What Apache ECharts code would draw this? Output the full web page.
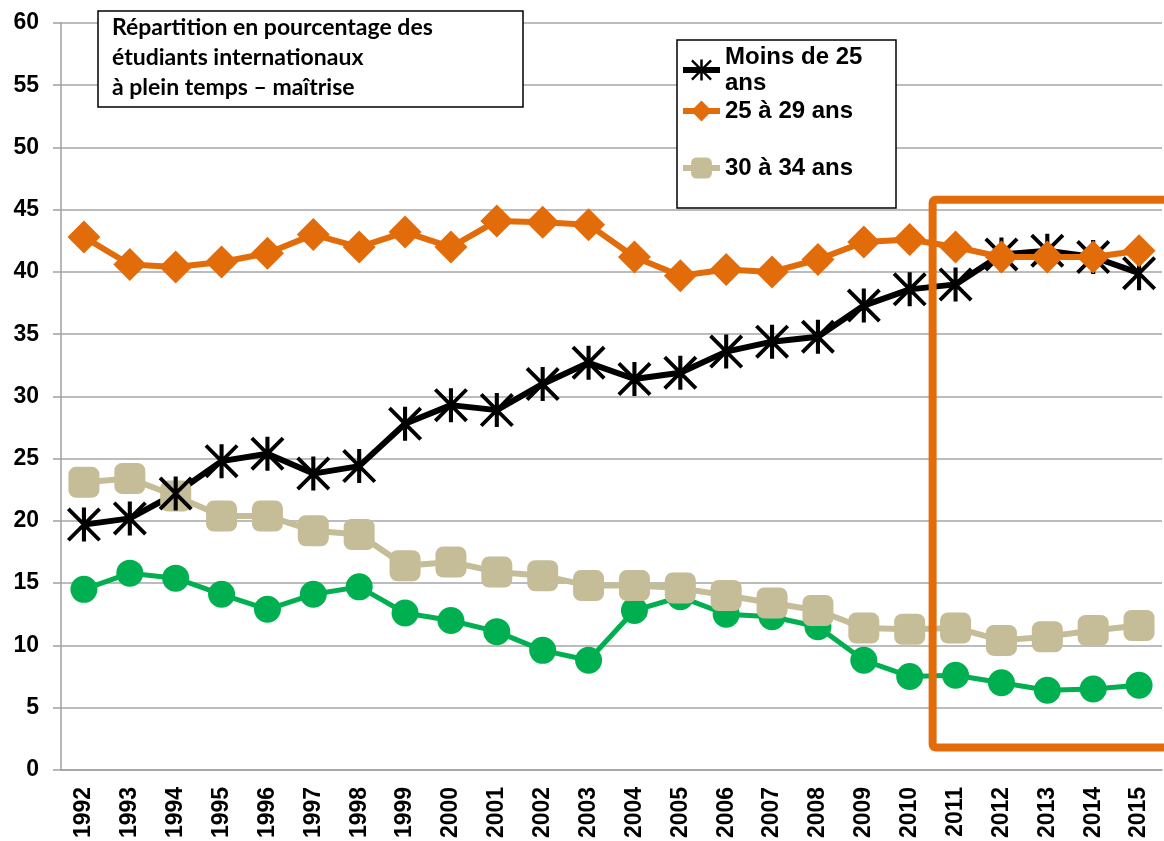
<!doctype html>
<html>
    <head>
        <meta charset="utf-8">
        <style>
            html, body { margin: 0; padding: 0; background: #fff; }
            #main { width: 1164px; height: 841px; }
        </style>
    </head>
    <body>
        <div id="main"></div>
        <script src="https://cdn.jsdelivr.net/npm/echarts@6/dist/echarts.min.js"></script>
        <script>
            var annees = ['1992', '1993', '1994', '1995', '1996', '1997', '1998', '1999', '2000', '2001', '2002', '2003',
                '2004', '2005', '2006', '2007', '2008', '2009', '2010', '2011', '2012', '2013', '2014', '2015'];

            var moins25 = [19.7, 20.2, 22.2, 24.8, 25.4, 23.8, 24.4, 27.8, 29.3, 28.9, 31.0, 32.7,
                31.4, 31.9, 33.6, 34.4, 34.8, 37.3, 38.6, 39.0, 41.4, 41.7, 41.2, 39.9];
            var de25a29 = [42.8, 40.6, 40.4, 40.8, 41.5, 43.0, 42.0, 43.2, 42.0, 44.1, 44.0, 43.8,
                41.2, 39.7, 40.2, 40.0, 41.0, 42.4, 42.6, 42.0, 41.2, 41.2, 41.2, 41.7];
            var de30a34 = [23.1, 23.4, 22.0, 20.4, 20.4, 19.2, 18.9, 16.4, 16.7, 15.9, 15.6, 14.8,
                14.8, 14.6, 14.0, 13.4, 12.8, 11.4, 11.3, 11.4, 10.4, 10.7, 11.2, 11.6];
            var plus35 = [14.5, 15.8, 15.4, 14.1, 12.9, 14.1, 14.7, 12.6, 12.0, 11.1, 9.6, 8.8,
                12.8, 13.9, 12.5, 12.3, 11.5, 8.8, 7.5, 7.6, 7.0, 6.4, 6.5, 6.8];

            var titre = 'Répartition en pourcentage des\nétudiants internationaux\nà plein temps – maîtrise';

            // asterisque (vertical + X) pour la série "Moins de 25 ans"
            var etoile = 'path://M44 0H56V100H44Z M8 0L100 92L92 100L0 8Z M92 0L100 8L8 100L0 92Z';

            var chart = echarts.init(document.getElementById('main'));

            chart.setOption({
                animation: false,
                title: {
                    text: titre,
                    left: 98,
                    top: 11,
                    padding: [2, 90, 4, 14],
                    backgroundColor: '#fff',
                    borderColor: '#000',
                    borderWidth: 1.5,
                    textStyle: {
                        fontFamily: 'Lato',
                        fontWeight: 'bold',
                        fontSize: 23,
                        lineHeight: 30,
                        color: '#000'
                    }
                },
                legend: {
                    orient: 'vertical',
                    left: 680,
                    top: 44,
                    padding: 0,
                    itemWidth: 37,
                    itemHeight: 26,
                    itemGap: 2,
                    lineStyle: {width: 6},
                    data: [
                        {name: 'Moins de 25 ans'},
                        {name: '25 à 29 ans'},
                        {name: '30 à 34 ans', textStyle: {padding: [29, 0, 29, 0]}}
                    ],
                    formatter: function (n) {
                        return n === 'Moins de 25 ans' ? 'Moins de 25\nans' : n;
                    },
                    textStyle: {
                        fontFamily: 'Liberation Sans',
                        fontWeight: 'bold',
                        fontSize: 24,
                        lineHeight: 26,
                        color: '#000'
                    }
                },
                grid: {
                    left: 61,
                    right: 2,
                    top: 23,
                    bottom: 71
                },
                xAxis: {
                    type: 'category',
                    data: annees,
                    boundaryGap: true,
                    axisLine: {lineStyle: {color: '#A0A0A0', width: 1.5}},
                    axisTick: {length: 8, lineStyle: {color: '#A0A0A0', width: 1.5}},
                    axisLabel: {
                        rotate: 90,
                        margin: 17,
                        fontFamily: 'Liberation Sans',
                        fontWeight: 'bold',
                        fontSize: 23,
                        color: '#000'
                    }
                },
                yAxis: {
                    type: 'value',
                    min: 0,
                    max: 60,
                    interval: 5,
                    axisLine: {show: true, lineStyle: {color: '#A0A0A0', width: 1.5}},
                    axisTick: {show: true, length: 8, lineStyle: {color: '#A0A0A0', width: 1.5}},
                    splitLine: {lineStyle: {color: '#A6A6A6', width: 1.5}},
                    axisLabel: {
                        margin: 22,
                        fontFamily: 'Liberation Sans',
                        fontWeight: 'bold',
                        fontSize: 23,
                        color: '#000'
                    }
                },
                graphic: [{
                    type: 'rect',
                    id: 'cadreLegende',
                    shape: {x: 677, y: 40, width: 219, height: 168},
                    style: {fill: '#fff', stroke: '#000', lineWidth: 1.5},
                    z: 3
                }],
                series: [{
                    name: '35 ans et plus',
                    type: 'line',
                    data: plus35,
                    symbol: 'circle',
                    symbolSize: 27,
                    lineStyle: {color: '#00B050', width: 5},
                    itemStyle: {color: '#00B050'}
                }, {
                    name: '30 à 34 ans',
                    type: 'line',
                    data: de30a34,
                    symbol: 'roundRect',
                    symbolSize: 31,
                    lineStyle: {color: '#C4BD97', width: 6},
                    itemStyle: {color: '#C4BD97'}
                }, {
                    name: 'Moins de 25 ans',
                    type: 'line',
                    data: moins25,
                    symbol: etoile,
                    symbolSize: 34,
                    lineStyle: {color: '#000', width: 6},
                    itemStyle: {color: '#000'}
                }, {
                    name: '25 à 29 ans',
                    type: 'line',
                    data: de25a29,
                    symbol: 'diamond',
                    symbolSize: 33,
                    lineStyle: {color: '#E36C0A', width: 6},
                    itemStyle: {color: '#E36C0A'}
                }]
            });

            // cadre orange autour des années 2011-2015
            var xG = (chart.convertToPixel({xAxisIndex: 0}, '2010') + chart.convertToPixel({xAxisIndex: 0}, '2011')) / 2;
            var yH = chart.convertToPixel({yAxisIndex: 0}, 45.8);
            var yB = chart.convertToPixel({yAxisIndex: 0}, 1.8);
            chart.setOption({
                graphic: [{
                    id: 'cadreLegende'
                }, {
                    type: 'rect',
                    id: 'cadreOrange',
                    shape: {x: xG, y: yH, width: 1164 - xG + 20, height: yB - yH, r: 3},
                    style: {fill: 'none', stroke: '#E36C0A', lineWidth: 8},
                    z: 10
                }]
            });

            window.onresize = chart.resize;
        </script>
    </body>
</html>
